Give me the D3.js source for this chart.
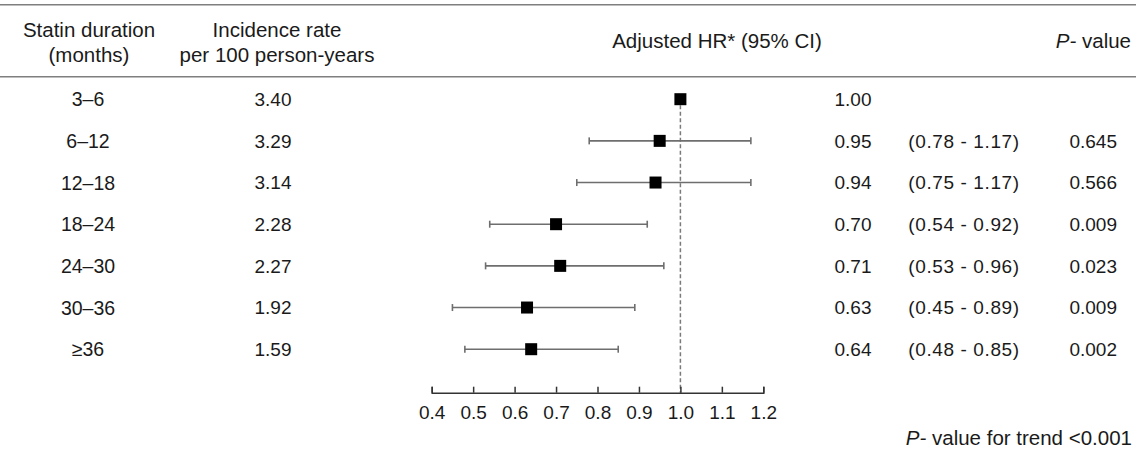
<!DOCTYPE html>
<html>
<head>
<meta charset="utf-8">
<script src="https://cdn.jsdelivr.net/npm/d3@7"></script>
<style>
  body { margin: 0; background: #fff; }
  text { font-family: "Liberation Sans", Arial, sans-serif; fill: #1a1a1a; }
</style>
</head>
<body>
<svg id="mainsvg" width="1136" height="450"></svg>
<script>
// data
const durations = ['3–6', '6–12', '12–18', '18–24', '24–30', '30–36', '≥36'];
const incidence = ['3.40', '3.29', '3.14', '2.28', '2.27', '1.92', '1.59'];
const hr = [1.00, 0.95, 0.94, 0.70, 0.71, 0.63, 0.64];
const lower = [null, 0.78, 0.75, 0.54, 0.53, 0.45, 0.48];
const upper = [null, 1.17, 1.17, 0.92, 0.96, 0.89, 0.85];
const pValues = ['', '0.645', '0.566', '0.009', '0.023', '0.009', '0.002'];
const tickValues = [0.4, 0.5, 0.6, 0.7, 0.8, 0.9, 1.0, 1.1, 1.2];

const svg = d3.select('#mainsvg');
const width = +svg.attr('width');
const fs = 19;      // numbers
const hfs = 20.5;   // headers / words

const xScale = d3.scaleLinear().domain([0.4, 1.2]).range([431.7, 763.3]);
const yScale = d3.scalePoint().domain(durations).range([99.2, 349.2]);
const axisY = 392.7;

const rows = durations.map((d, i) => ({
  name: d, inc: incidence[i], hr: hr[i], lo: lower[i], hi: upper[i], p: pValues[i]
}));

// table rules
svg.selectAll('.rule').data([4.7, 76.7]).enter().append('line')
  .attr('x1', 0).attr('x2', width)
  .attr('y1', d => d).attr('y2', d => d)
  .attr('stroke', '#7f7f7f').attr('stroke-width', 1.6);

// headers
function header(x, lines, anchor) {
  const t = svg.append('text').attr('text-anchor', anchor || 'middle').attr('font-size', hfs);
  lines.forEach(l => {
    t.append('tspan').attr('x', x).attr('y', l[1]).text(l[0]);
  });
  return t;
}
header(89, [['Statin duration', 37], ['(months)', 62]]);
header(277, [['Incidence rate', 37], ['per 100 person-years', 62]]);
header(717, [['Adjusted HR* (95% CI)', 48]]);
const ph = svg.append('text').attr('x', 1131).attr('y', 48)
  .attr('text-anchor', 'end').attr('font-size', hfs);
ph.append('tspan').attr('font-style', 'italic').text('P-');
ph.append('tspan').text(' value');

// reference line at HR = 1
svg.append('line')
  .attr('x1', xScale(1)).attr('x2', xScale(1))
  .attr('y1', yScale(durations[0]) + 6).attr('y2', axisY)
  .attr('stroke', '#7a7a7a').attr('stroke-width', 1.5)
  .attr('stroke-dasharray', '4,2.5');

// text columns
const g = svg.append('g').attr('font-size', fs);
g.selectAll('.dur').data(rows).enter().append('text')
  .attr('x', 88).attr('y', d => yScale(d.name)).attr('dy', '0.36em')
  .attr('text-anchor', 'middle').attr('font-size', 19.5).text(d => d.name);
g.selectAll('.inc').data(rows).enter().append('text')
  .attr('x', 273).attr('y', d => yScale(d.name)).attr('dy', '0.36em')
  .attr('text-anchor', 'middle').text(d => d.inc);
g.selectAll('.hrv').data(rows).enter().append('text')
  .attr('x', 853).attr('y', d => yScale(d.name)).attr('dy', '0.36em')
  .attr('text-anchor', 'middle').text(d => d.hr.toFixed(2));
g.selectAll('.ci').data(rows.filter(d => d.lo != null)).enter().append('text')
  .attr('x', 964).attr('y', d => yScale(d.name)).attr('dy', '0.36em')
  .attr('text-anchor', 'middle').attr('letter-spacing', 0.6)
  .text(d => `(${d.lo.toFixed(2)} - ${d.hi.toFixed(2)})`);
g.selectAll('.pv').data(rows).enter().append('text')
  .attr('x', 1117).attr('y', d => yScale(d.name)).attr('dy', '0.36em')
  .attr('text-anchor', 'end').text(d => d.p);

// confidence intervals
const ciRows = rows.filter(d => d.lo != null);
const ci = svg.append('g').attr('stroke', '#6e6e6e').attr('stroke-width', 1.6);
ci.selectAll('.ciline').data(ciRows).enter().append('line')
  .attr('x1', d => xScale(d.lo)).attr('x2', d => xScale(d.hi))
  .attr('y1', d => yScale(d.name)).attr('y2', d => yScale(d.name));
ci.selectAll('.capl').data(ciRows).enter().append('line')
  .attr('x1', d => xScale(d.lo)).attr('x2', d => xScale(d.lo))
  .attr('y1', d => yScale(d.name) - 3.5).attr('y2', d => yScale(d.name) + 3.5);
ci.selectAll('.caph').data(ciRows).enter().append('line')
  .attr('x1', d => xScale(d.hi)).attr('x2', d => xScale(d.hi))
  .attr('y1', d => yScale(d.name) - 3.5).attr('y2', d => yScale(d.name) + 3.5);

// point estimates
const sq = 12;
svg.selectAll('.pt').data(rows).enter().append('rect')
  .attr('x', d => xScale(d.hr) - sq / 2).attr('y', d => yScale(d.name) - sq / 2)
  .attr('width', sq).attr('height', sq).attr('fill', '#000');

// x axis
const xAxis = d3.axisBottom(xScale)
  .tickValues(tickValues)
  .tickFormat(d3.format('.1f'))
  .tickSize(-6).tickSizeOuter(-6).tickPadding(13);
const xAxisG = svg.append('g').attr('transform', `translate(0, ${axisY})`).call(xAxis);
xAxisG.selectAll('path, line').attr('stroke', '#333').attr('stroke-width', 1.5);
xAxisG.selectAll('.tick text').attr('font-size', fs).attr('fill', '#1a1a1a')
  .attr('font-family', '"Liberation Sans", Arial, sans-serif');

// trend p-value
const tp = svg.append('text').attr('x', 1132).attr('y', 445)
  .attr('text-anchor', 'end').attr('font-size', hfs);
tp.append('tspan').attr('font-style', 'italic').text('P-');
tp.append('tspan').text(' value for trend <0.001');
</script>
</body>
</html>
